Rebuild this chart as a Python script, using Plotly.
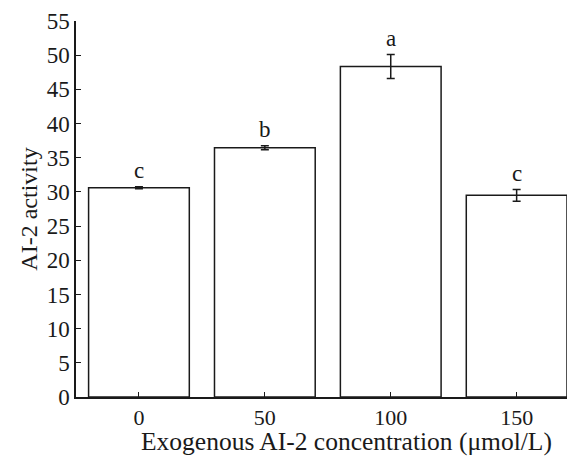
import plotly.graph_objects as go

categories = ["0", "50", "100", "150"]
values = [30.6, 36.45, 48.35, 29.5]
errors = [0.15, 0.3, 1.75, 0.85]
letters = ["c", "b", "a", "c"]
y_ticks = [0, 5, 10, 15, 20, 25, 30, 35, 40, 45, 50, 55]
x_title = "Exogenous AI-2 concentration (μmol/L)"
y_title = "AI-2 activity"

font_family = "Liberation Serif, Times New Roman, serif"
ink = "#1a1a1a"

fig = go.Figure()
fig.add_trace(go.Bar(
    x=categories, y=values,
    width=0.8,
    marker=dict(color="white", line=dict(color=ink, width=1.5)),
    error_y=dict(type="data", array=errors, visible=True, color=ink, thickness=1.5, width=4),
    showlegend=False,
))

for i, (v, e, l) in enumerate(zip(values, errors, letters)):
    fig.add_annotation(x=i, y=v + e, xref="x", yref="y", text=l, showarrow=False,
                       yanchor="bottom", yshift=2,
                       font=dict(family=font_family, size=23, color=ink))

fig.add_annotation(x=0.55, y=0, xref="paper", yref="paper", text=x_title, showarrow=False,
                   xanchor="center", yanchor="top", yshift=-29, borderpad=0,
                   font=dict(family=font_family, size=25.5, color=ink))

fig.update_layout(
    width=573, height=457,
    margin=dict(l=76, r=6, t=21, b=60),
    plot_bgcolor="white", paper_bgcolor="white",
    font=dict(family=font_family, size=23, color=ink),
    xaxis=dict(
        type="category", range=[-0.5, 3.4], automargin=False,
        showline=True, linecolor=ink, linewidth=1.5,
        ticks="inside", ticklen=5, tickwidth=1.2, tickcolor=ink,
        tickfont=dict(size=22),
        showgrid=False, zeroline=False,
    ),
    yaxis=dict(
        range=[0, 55], tickvals=y_ticks, automargin=False,
        showline=True, linecolor=ink, linewidth=1.5,
        ticks="inside", ticklen=5, tickwidth=1.2, tickcolor=ink,
        tickfont=dict(size=23),
        title=dict(text=y_title, standoff=2, font=dict(family=font_family, size=24)),
        showgrid=False, zeroline=False,
    ),
)

fig.write_html("out.html", config={"displayModeBar": False},
               post_script="document.body.style.margin='0';document.body.style.overflow='hidden';")
